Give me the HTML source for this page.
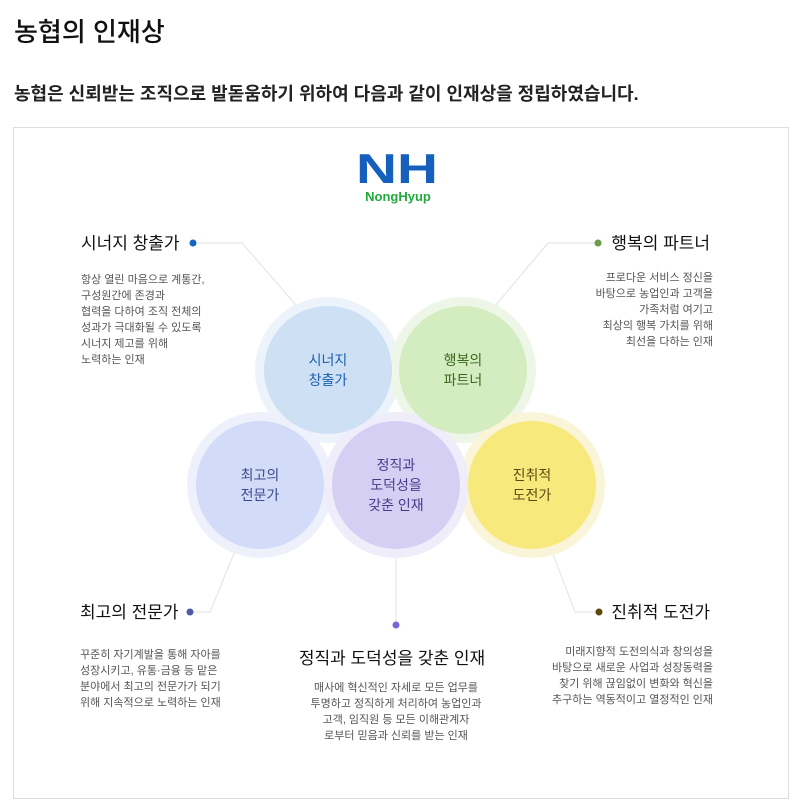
<!DOCTYPE html>
<html><head><meta charset="utf-8"><style>
body{margin:0;width:800px;height:812px;background:#fff;font-family:"Liberation Sans","Noto Sans CJK KR",sans-serif;position:relative;overflow:hidden}
.t{position:absolute;left:14px;top:12px;font-size:26px;color:#111;font-weight:500}
.s{position:absolute;left:14px;top:80px;font-size:18px;color:#222;font-weight:600}
.box{position:absolute;left:13px;top:127px;width:774px;height:670px;border:1px solid #ddd}
svg{position:absolute;left:0;top:0}
</style></head><body>
<div class="t">농협의 인재상</div>
<div class="s">농협은 신뢰받는 조직으로 발돋움하기 위하여 다음과 같이 인재상을 정립하였습니다.</div>
<div class="box"></div>
<svg width="800" height="812" font-family="Liberation Sans, Noto Sans CJK KR, sans-serif">
<text x="397" y="183" text-anchor="middle" font-size="42" font-weight="bold" fill="#1560bd" textLength="82" lengthAdjust="spacingAndGlyphs">NH</text>
<text x="398" y="201" text-anchor="middle" font-size="13" font-weight="bold" fill="#1faa3c">NongHyup</text>
<g stroke="#e2e2e2" fill="none" stroke-width="1">
<polyline points="198,243 242,243 302,312"/>
<polyline points="597,243 548,243 490,312"/>
<polyline points="193,612 210,612 237,546"/>
<polyline points="396,546 396,622"/>
<polyline points="597,612 575,612 550,546"/>
</g>
<circle cx="328" cy="370" r="73" fill="#edf3fb"/>
<circle cx="463" cy="370" r="73" fill="#eef7e7"/>
<circle cx="260" cy="485" r="73" fill="#eef1fc"/>
<circle cx="532" cy="485" r="73" fill="#faf4d8"/>
<circle cx="396" cy="485" r="73" fill="#efedfa"/>
<circle cx="328" cy="370" r="64" fill="#cde0f4"/>
<circle cx="463" cy="370" r="64" fill="#d3ecc0"/>
<circle cx="260" cy="485" r="64" fill="#d2dcf9"/>
<circle cx="532" cy="485" r="64" fill="#f7e97c"/>
<circle cx="396" cy="485" r="64" fill="#d5d0f3"/>
<g font-size="14" text-anchor="middle">
<text x="328" y="365" fill="#1c5fae">시너지</text><text x="328" y="385" fill="#1c5fae">창출가</text>
<text x="463" y="365" fill="#3d6a1f">행복의</text><text x="463" y="385" fill="#3d6a1f">파트너</text>
<text x="260" y="480" fill="#3c4a8a">최고의</text><text x="260" y="500" fill="#3c4a8a">전문가</text>
<text x="396" y="470" fill="#4b3a8a">정직과</text><text x="396" y="490" fill="#4b3a8a">도덕성을</text><text x="396" y="510" fill="#4b3a8a">갖춘 인재</text>
<text x="532" y="480" fill="#5b4a10">진취적</text><text x="532" y="500" fill="#5b4a10">도전가</text>
</g>
<circle cx="193" cy="243" r="3.5" fill="#1565c0"/>
<circle cx="598" cy="243" r="3.5" fill="#6a9a4a"/>
<circle cx="190" cy="612" r="3.5" fill="#5058a8"/>
<circle cx="396" cy="625" r="3.5" fill="#7b64d8"/>
<circle cx="599" cy="612" r="3.5" fill="#5c4a0a"/>
<g font-size="17" fill="#111">
<text x="81" y="249">시너지 창출가</text>
<text x="710" y="249" text-anchor="end">행복의 파트너</text>
<text x="80" y="618">최고의 전문가</text>
<text x="710" y="618" text-anchor="end">진취적 도전가</text>
<text x="392" y="664" text-anchor="middle">정직과 도덕성을 갖춘 인재</text>
</g>
<g font-size="11" fill="#555">
<text x="81" y="283">항상 열린 마음으로 계통간,</text>
<text x="81" y="299">구성원간에 존경과</text>
<text x="81" y="315">협력을 다하여 조직 전체의</text>
<text x="81" y="331">성과가 극대화될 수 있도록</text>
<text x="81" y="347">시너지 제고를 위해</text>
<text x="81" y="363">노력하는 인재</text>
<g text-anchor="end">
<text x="713" y="281">프로다운 서비스 정신을</text>
<text x="713" y="297">바탕으로 농업인과 고객을</text>
<text x="713" y="313">가족처럼 여기고</text>
<text x="713" y="329">최상의 행복 가치를 위해</text>
<text x="713" y="345">최선을 다하는 인재</text>
<text x="713" y="655">미래지향적 도전의식과 창의성을</text>
<text x="713" y="671">바탕으로 새로운 사업과 성장동력을</text>
<text x="713" y="687">찾기 위해 끊임없이 변화와 혁신을</text>
<text x="713" y="703">추구하는 역동적이고 열정적인 인재</text>
</g>
<text x="80" y="658">꾸준히 자기계발을 통해 자아를</text>
<text x="80" y="674">성장시키고, 유통·금융 등 맡은</text>
<text x="80" y="690">분야에서 최고의 전문가가 되기</text>
<text x="80" y="706">위해 지속적으로 노력하는 인재</text>
<g text-anchor="middle">
<text x="396" y="691">매사에 혁신적인 자세로 모든 업무를</text>
<text x="396" y="707">투명하고 정직하게 처리하여 농업인과</text>
<text x="396" y="723">고객, 임직원 등 모든 이해관계자</text>
<text x="396" y="739">로부터 믿음과 신뢰를 받는 인재</text>
</g>
</g>
</svg>
</body></html>
